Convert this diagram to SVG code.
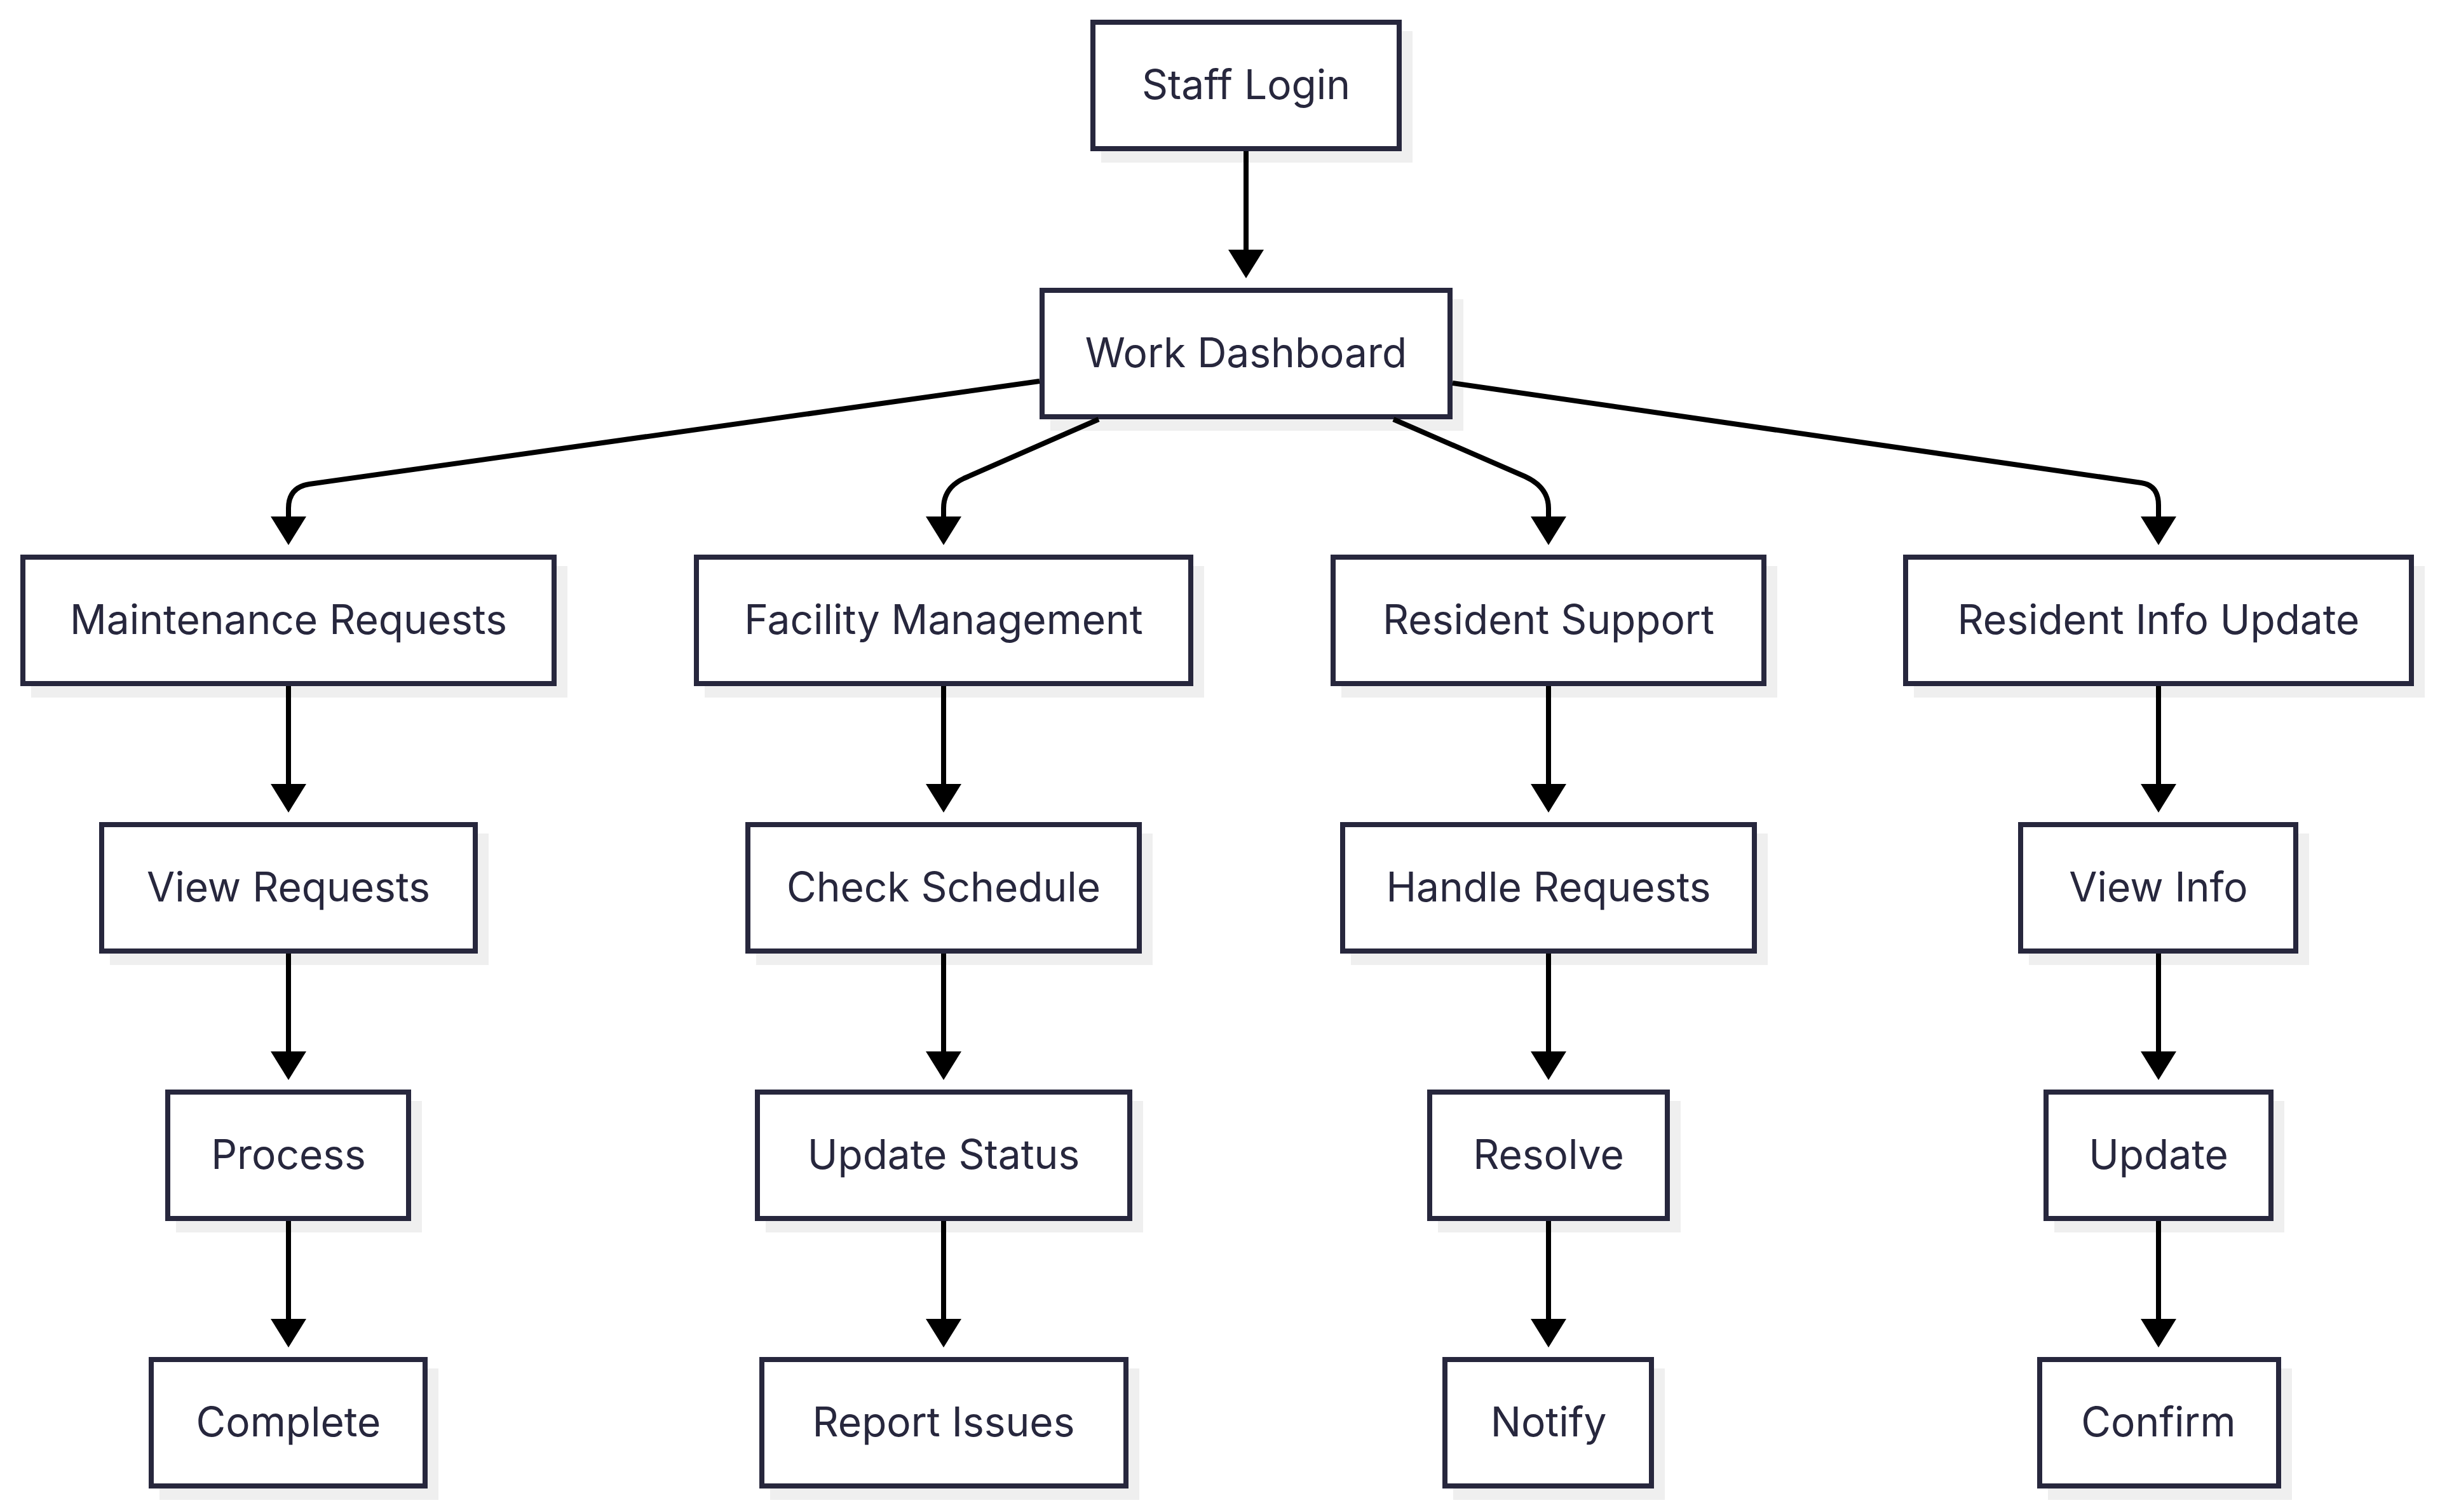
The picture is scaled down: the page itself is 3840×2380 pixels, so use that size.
<svg xmlns="http://www.w3.org/2000/svg" width="3840" height="2380" viewBox="0 0 3840 2380">
<defs>
<marker id="arrow" viewBox="0 0 45 56" refX="0" refY="28" markerWidth="45" markerHeight="56" markerUnits="userSpaceOnUse" orient="auto">
<path d="M0,0 L45,28 L0,56 Z" fill="#000"/>
</marker>
</defs>
<style>
.shadow{fill:#efefef;stroke:none}
.box{fill:#ffffff;stroke:#27273d;stroke-width:8}
.label{font-family:Inter,"Noto Sans","Liberation Sans",sans-serif;font-size:64px;fill:#27273d;text-anchor:middle}
.edge{fill:none;stroke:#000;stroke-width:8;marker-end:url(#arrow)}
</style>
<rect width="3840" height="2380" fill="#ffffff"/>
<g id="staff-login"><rect class="shadow" x="1733" y="49" width="490" height="207"/><rect class="box" x="1720" y="35" width="482" height="199"/><text class="label" x="1961" y="156">Staff Login</text></g>
<g id="work-dashboard"><rect class="shadow" x="1653" y="471" width="650" height="207"/><rect class="box" x="1640" y="457" width="642" height="199"/><text class="label" x="1961" y="578">Work Dashboard</text></g>
<g id="maintenance-requests"><rect class="shadow" x="49" y="891" width="844" height="207"/><rect class="box" x="36" y="877" width="836" height="199"/><text class="label" x="454" y="998">Maintenance Requests</text></g>
<g id="facility-management"><rect class="shadow" x="1109" y="891" width="786" height="207"/><rect class="box" x="1096" y="877" width="778" height="199"/><text class="label" x="1485" y="998">Facility Management</text></g>
<g id="resident-support"><rect class="shadow" x="2111" y="891" width="686" height="207"/><rect class="box" x="2098" y="877" width="678" height="199"/><text class="label" x="2437" y="998">Resident Support</text></g>
<g id="resident-info-update"><rect class="shadow" x="3012" y="891" width="804" height="207"/><rect class="box" x="2999" y="877" width="796" height="199"/><text class="label" x="3397" y="998">Resident Info Update</text></g>
<g id="view-requests"><rect class="shadow" x="173" y="1312" width="596" height="207"/><rect class="box" x="160" y="1298" width="588" height="199"/><text class="label" x="454" y="1419">View Requests</text></g>
<g id="check-schedule"><rect class="shadow" x="1190" y="1312" width="624" height="207"/><rect class="box" x="1177" y="1298" width="616" height="199"/><text class="label" x="1485" y="1419">Check Schedule</text></g>
<g id="handle-requests"><rect class="shadow" x="2126" y="1312" width="656" height="207"/><rect class="box" x="2113" y="1298" width="648" height="199"/><text class="label" x="2437" y="1419">Handle Requests</text></g>
<g id="view-info"><rect class="shadow" x="3193" y="1312" width="441" height="207"/><rect class="box" x="3180" y="1298" width="433" height="199"/><text class="label" x="3397" y="1419">View Info</text></g>
<g id="process"><rect class="shadow" x="277" y="1733" width="387" height="207"/><rect class="box" x="264" y="1719" width="379" height="199"/><text class="label" x="454" y="1840">Process</text></g>
<g id="update-status"><rect class="shadow" x="1205" y="1733" width="594" height="207"/><rect class="box" x="1192" y="1719" width="586" height="199"/><text class="label" x="1485" y="1840">Update Status</text></g>
<g id="resolve"><rect class="shadow" x="2263" y="1733" width="382" height="207"/><rect class="box" x="2250" y="1719" width="374" height="199"/><text class="label" x="2437" y="1840">Resolve</text></g>
<g id="update"><rect class="shadow" x="3233" y="1733" width="362" height="207"/><rect class="box" x="3220" y="1719" width="354" height="199"/><text class="label" x="3397" y="1840">Update</text></g>
<g id="complete"><rect class="shadow" x="251" y="2154" width="439" height="207"/><rect class="box" x="238" y="2140" width="431" height="199"/><text class="label" x="454" y="2261">Complete</text></g>
<g id="report-issues"><rect class="shadow" x="1212" y="2154" width="581" height="207"/><rect class="box" x="1199" y="2140" width="573" height="199"/><text class="label" x="1485" y="2261">Report Issues</text></g>
<g id="notify"><rect class="shadow" x="2287" y="2154" width="333" height="207"/><rect class="box" x="2274" y="2140" width="325" height="199"/><text class="label" x="2437" y="2261">Notify</text></g>
<g id="confirm"><rect class="shadow" x="3223" y="2154" width="384" height="207"/><rect class="box" x="3210" y="2140" width="376" height="199"/><text class="label" x="3397" y="2261">Confirm</text></g>
<g id="edges">
<path class="edge" d="M1961,238 L1961,393"/>
<path class="edge" d="M1636,600 L487,762 Q454,767 454,800 L454,813"/>
<path class="edge" d="M1729,660 L1517,753 Q1485,768 1485,800 L1485,813"/>
<path class="edge" d="M2193,660 L2400,750 Q2437,767 2437,800 L2437,813"/>
<path class="edge" d="M2286,603 L3370,760 Q3397,764 3397,795 L3397,813"/>
<path class="edge" d="M454,1080 L454,1234"/>
<path class="edge" d="M1485,1080 L1485,1234"/>
<path class="edge" d="M2437,1080 L2437,1234"/>
<path class="edge" d="M3397,1080 L3397,1234"/>
<path class="edge" d="M454,1501 L454,1655"/>
<path class="edge" d="M1485,1501 L1485,1655"/>
<path class="edge" d="M2437,1501 L2437,1655"/>
<path class="edge" d="M3397,1501 L3397,1655"/>
<path class="edge" d="M454,1922 L454,2076"/>
<path class="edge" d="M1485,1922 L1485,2076"/>
<path class="edge" d="M2437,1922 L2437,2076"/>
<path class="edge" d="M3397,1922 L3397,2076"/>
</g>
</svg>
